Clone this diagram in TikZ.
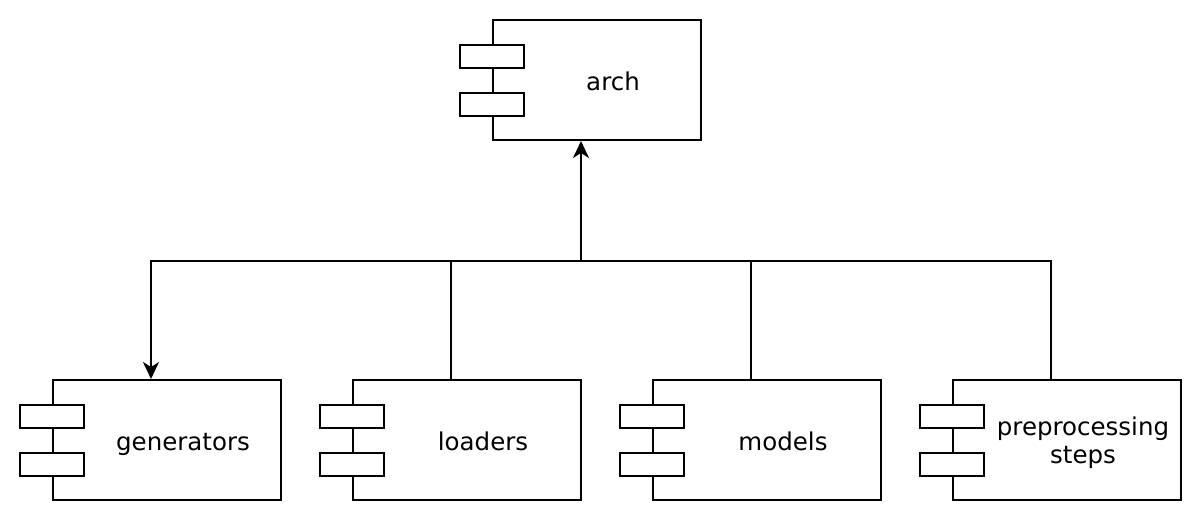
\documentclass[tikz,border=0pt]{standalone}
\usepackage{fontspec}
\setmainfont{DejaVu Sans}
\usetikzlibrary{arrows.meta,calc}
\tikzset{
  compbox/.style={draw, line width=2pt, fill=white, minimum width=#1, minimum height=120pt, inner sep=0pt},
  portbox/.style={draw, line width=2pt, fill=white, minimum width=64pt, minimum height=23pt, inner sep=0pt},
  complabel/.style={font=\fontsize{24.5}{28}\selectfont, align=center, inner sep=0pt, anchor=base},
  conn/.style={line width=2pt},
  tip/.style={-{Stealth[length=17pt, width=16pt, inset=5pt]}}
}
\newcommand\umlcomp[6]{%
  % #1 name, #2 x center of main box, #3 y center, #4 width, #5 text, #6 last baseline offset below centre
  \node[compbox=#4] (#1) at (#2,#3) {};
  \node[portbox] (#1p1) at ([yshift=24pt]#1.west) {};
  \node[portbox] (#1p2) at ([yshift=-24pt]#1.west) {};
  \node[complabel] (#1t) at ([xshift=16pt, yshift=-#6]#1.center) {#5};
}
\begin{document}
\begin{tikzpicture}[x=1pt, y=-1pt]
\useasboundingbox (0,0) rectangle (1202,522);
\umlcomp{arch}{597}{80}{208}{arch}{10pt}
\umlcomp{gen}{167}{440}{228}{generators}{10.5pt}
\umlcomp{load}{467}{440}{228}{loaders}{10.5pt}
\umlcomp{mod}{767}{440}{228}{models}{10.5pt}
\umlcomp{pre}{1067}{440}{228}{preprocessing\\steps}{23pt}
\coordinate (j) at (581,261);
\coordinate (ab) at (j |- arch.south);
\draw[conn, tip] (j) -| ([xshift=-16pt]gen.north);
\draw[conn, tip] (j) -- (ab);
\draw[conn] ([xshift=-16pt]load.north) |- (j);
\draw[conn] ([xshift=-16pt]mod.north) |- (j);
\draw[conn] ([xshift=-16pt]pre.north) |- (j);
\end{tikzpicture}
\end{document}
